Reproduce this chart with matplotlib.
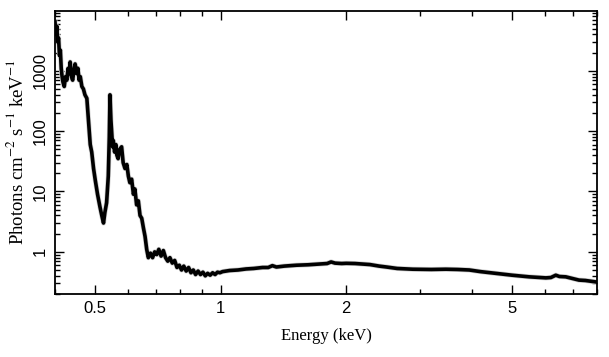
import matplotlib
matplotlib.use("Agg")
import matplotlib.pyplot as plt
from matplotlib.ticker import FixedLocator, FixedFormatter, LogLocator, NullFormatter

# unfolded spectrum (keV, photons cm^-2 s^-1 keV^-1)
energy_kev = [0.400, 0.402, 0.404, 0.406, 0.408, 0.410, 0.412, 0.414, 0.416, 0.418,
              0.421, 0.424, 0.427, 0.430, 0.433, 0.435, 0.438, 0.441, 0.444, 0.447,
              0.451, 0.454, 0.457, 0.460, 0.464, 0.468, 0.472, 0.477, 0.481, 0.486,
              0.490, 0.495, 0.500, 0.506, 0.513, 0.518, 0.523, 0.527, 0.532, 0.537,
              0.540, 0.542, 0.545, 0.547, 0.550, 0.552, 0.556, 0.560, 0.563, 0.567,
              0.572, 0.578, 0.583, 0.589, 0.595, 0.600, 0.605, 0.611, 0.617, 0.622,
              0.628, 0.634, 0.640, 0.646, 0.652, 0.658, 0.664, 0.670, 0.678, 0.686,
              0.694, 0.702, 0.710, 0.719, 0.728, 0.737, 0.746, 0.755, 0.765, 0.775,
              0.785, 0.795, 0.805, 0.815, 0.826, 0.837, 0.848, 0.859, 0.870, 0.882,
              0.894, 0.906, 0.918, 0.930, 0.943, 0.956, 0.969, 0.982, 0.995, 1.01,
              1.05, 1.10, 1.15, 1.20, 1.26, 1.30, 1.33, 1.36, 1.42, 1.52,
              1.62, 1.73, 1.80, 1.84, 1.88, 1.95, 2.00, 2.10, 2.20, 2.28,
              2.40, 2.50, 2.65, 2.89, 3.20, 3.47, 3.70, 3.95, 4.20, 4.57,
              5.00, 5.50, 6.03, 6.20, 6.37, 6.50, 6.73, 7.00, 7.24, 7.50,
              7.87, 8.0]
flux = [6500, 4000, 5500, 3000, 3500, 1800, 2200, 1100, 800, 650,
        550, 800, 700, 1100, 900, 1400, 800, 700, 1000, 1300,
        900, 1100, 700, 800, 550, 500, 400, 350, 160, 60,
        45, 24, 15, 9, 5.5, 4, 3, 4.5, 6.5, 18,
        80, 400, 150, 100, 55, 70, 45, 60, 40, 35,
        50, 55, 30, 24, 28, 18, 14, 16, 9, 11,
        6, 7, 4, 3.6, 2.5, 1.8, 1.1, 0.8, 0.95, 0.8,
        1.0, 0.9, 1.1, 0.85, 1.05, 0.8, 0.7, 0.8, 0.65, 0.72,
        0.55, 0.6, 0.5, 0.58, 0.48, 0.55, 0.45, 0.5, 0.42, 0.48,
        0.42, 0.46, 0.40, 0.44, 0.41, 0.45, 0.42, 0.46, 0.45, 0.47,
        0.49, 0.50, 0.52, 0.53, 0.55, 0.55, 0.59, 0.56, 0.58, 0.60,
        0.61, 0.63, 0.64, 0.68, 0.65, 0.64, 0.645, 0.64, 0.625, 0.615,
        0.58, 0.56, 0.53, 0.515, 0.51, 0.515, 0.51, 0.50, 0.47, 0.44,
        0.41, 0.385, 0.37, 0.375, 0.41, 0.39, 0.385, 0.36, 0.34, 0.335,
        0.32, 0.315]

x_ticks = [0.5, 1, 2, 5]
x_labels = ["0.5", "1", "2", "5"]
y_ticks = [1, 10, 100, 1000]
y_labels = ["1", "10", "100", "1000"]

plt.rcParams["mathtext.fontset"] = "stix"

fig = plt.figure(figsize=(6.09, 3.57), dpi=100)
ax = fig.add_axes([55 / 609, 63 / 357, 542 / 609, 283 / 357])

# grey error envelope under the black data line
ax.plot(energy_kev, flux, color="#cfcfcf", lw=3.6)
ax.plot(energy_kev, flux, color="black", lw=2.6)

ax.set_xscale("log")
ax.set_yscale("log")
ax.set_xlim(0.4, 8.0)
ax.set_ylim(0.2, 9800)

ax.xaxis.set_major_locator(FixedLocator(x_ticks))
ax.xaxis.set_major_formatter(FixedFormatter(x_labels))
ax.xaxis.set_minor_locator(LogLocator(base=10, subs=(2, 3, 4, 6, 7, 8, 9)))
ax.xaxis.set_minor_formatter(NullFormatter())
ax.yaxis.set_major_locator(FixedLocator(y_ticks))
ax.yaxis.set_major_formatter(FixedFormatter(y_labels))
ax.yaxis.set_minor_locator(LogLocator(base=10, subs=(2, 3, 4, 5, 6, 7, 8, 9)))
ax.yaxis.set_minor_formatter(NullFormatter())

ax.tick_params(which="both", direction="in", top=True, right=True, width=1.0)
ax.tick_params(which="major", length=6.5, labelsize=12, pad=5)
ax.tick_params(which="minor", length=3.5)
for lab in ax.get_xticklabels() + ax.get_yticklabels():
    lab.set_family("Liberation Sans")
for lab in ax.get_yticklabels():
    lab.set_rotation(90)
    lab.set_va("center")
for sp in ax.spines.values():
    sp.set_linewidth(1.3)

ax.set_xlabel("Energy (keV)", family="Liberation Serif", fontsize=12, labelpad=9)
ax.set_ylabel(r"Photons cm$^{-2}$ s$^{-1}$ keV$^{-1}$", family="Liberation Serif",
              fontsize=13.5, labelpad=4)

fig.savefig("out.png", dpi=100)
